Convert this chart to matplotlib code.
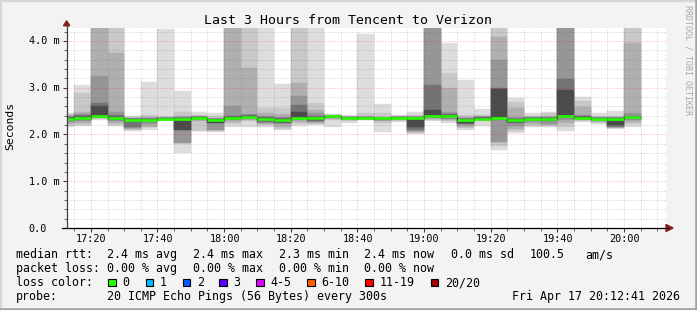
import matplotlib
matplotlib.use("Agg")
import matplotlib.pyplot as plt
import numpy as np
from matplotlib.lines import Line2D
from matplotlib.patches import Rectangle, Polygon
from matplotlib.transforms import blended_transform_factory, offset_copy

# ---------------- data ----------------
slot_start = ["17:10", "17:15", "17:20", "17:25", "17:30", "17:35", "17:40", "17:45",
              "17:50", "17:55", "18:00", "18:05", "18:10", "18:15", "18:20", "18:25",
              "18:30", "18:35", "18:40", "18:45", "18:50", "18:55", "19:00", "19:05",
              "19:10", "19:15", "19:20", "19:25", "19:30", "19:35", "19:40", "19:45",
              "19:50", "19:55", "20:00"]

median_ms = [2.34, 2.36, 2.40, 2.35, 2.32, 2.32, 2.34, 2.34, 2.36, 2.32, 2.35, 2.37,
             2.34, 2.32, 2.36, 2.35, 2.40, 2.36, 2.35, 2.35, 2.35, 2.35, 2.40, 2.40,
             2.32, 2.34, 2.36, 2.32, 2.34, 2.34, 2.40, 2.36, 2.34, 2.34, 2.37]

# smoke bands (outer -> inner): upper and lower edges per slot, in ms
smoke_upper = [
    [2.45, 2.43, 2.41, 2.39, 2.37, 2.35],
    [3.06, 2.89, 2.48, 2.44, 2.41, 2.38],
    [4.6, 4.6, 4.6, 3.25, 2.67, 2.60],
    [4.6, 4.6, 3.74, 2.49, 2.42, 2.38],
    [2.40, 2.38, 2.36, 2.35, 2.34, 2.33],
    [3.12, 2.42, 2.38, 2.36, 2.34, 2.33],
    [4.25, 2.38, 2.37, 2.36, 2.35, 2.345],
    [2.92, 2.49, 2.39, 2.37, 2.36, 2.35],
    [2.49, 2.41, 2.39, 2.38, 2.375, 2.37],
    [2.45, 2.40, 2.36, 2.34, 2.33, 2.33],
    [4.6, 4.6, 4.6, 2.62, 2.40, 2.38],
    [4.6, 4.6, 3.42, 2.44, 2.42, 2.40],
    [4.6, 2.56, 2.45, 2.40, 2.37, 2.35],
    [3.08, 2.57, 2.43, 2.38, 2.35, 2.33],
    [4.6, 4.6, 3.11, 2.82, 2.64, 2.49],
    [4.6, 2.67, 2.52, 2.45, 2.40, 2.36],
    [2.44, 2.42, 2.41, 2.405, 2.40, 2.40],
    [2.41, 2.39, 2.38, 2.37, 2.365, 2.36],
    [4.16, 2.45, 2.40, 2.38, 2.37, 2.36],
    [2.65, 2.45, 2.38, 2.36, 2.355, 2.35],
    [2.41, 2.40, 2.39, 2.38, 2.37, 2.36],
    [2.49, 2.41, 2.39, 2.38, 2.37, 2.36],
    [4.6, 4.6, 4.6, 4.6, 3.06, 2.52],
    [3.95, 3.31, 2.99, 2.49, 2.44, 2.42],
    [3.17, 2.42, 2.38, 2.36, 2.34, 2.33],
    [2.54, 2.41, 2.39, 2.38, 2.37, 2.36],
    [4.6, 4.6, 4.09, 3.59, 2.99, 2.97],
    [2.78, 2.70, 2.56, 2.38, 2.34, 2.33],
    [2.47, 2.40, 2.38, 2.37, 2.36, 2.35],
    [2.49, 2.46, 2.40, 2.37, 2.36, 2.35],
    [4.6, 4.6, 4.6, 4.6, 3.18, 2.95],
    [2.80, 2.71, 2.59, 2.42, 2.39, 2.38],
    [2.45, 2.39, 2.37, 2.36, 2.35, 2.345],
    [2.51, 2.39, 2.37, 2.36, 2.35, 2.345],
    [4.6, 4.6, 3.95, 2.47, 2.40, 2.38],
]
smoke_lower = [
    [2.17, 2.19, 2.22, 2.26, 2.29, 2.32],
    [2.18, 2.20, 2.24, 2.28, 2.31, 2.34],
    [2.31, 2.33, 2.35, 2.37, 2.38, 2.39],
    [2.18, 2.21, 2.25, 2.28, 2.31, 2.33],
    [2.07, 2.10, 2.12, 2.14, 2.16, 2.28],
    [2.10, 2.15, 2.17, 2.22, 2.27, 2.30],
    [2.28, 2.30, 2.31, 2.32, 2.33, 2.335],
    [1.60, 1.81, 1.81, 1.81, 2.10, 2.10],
    [2.08, 2.08, 2.28, 2.30, 2.33, 2.35],
    [2.06, 2.08, 2.10, 2.10, 2.24, 2.24],
    [2.17, 2.22, 2.26, 2.30, 2.33, 2.34],
    [2.16, 2.28, 2.31, 2.34, 2.35, 2.36],
    [2.17, 2.20, 2.22, 2.24, 2.26, 2.30],
    [2.10, 2.12, 2.15, 2.22, 2.24, 2.26],
    [2.18, 2.22, 2.27, 2.31, 2.33, 2.35],
    [2.20, 2.22, 2.24, 2.26, 2.28, 2.31],
    [2.16, 2.30, 2.33, 2.35, 2.37, 2.38],
    [2.24, 2.28, 2.31, 2.33, 2.34, 2.35],
    [2.30, 2.32, 2.33, 2.34, 2.345, 2.35],
    [2.06, 2.24, 2.28, 2.31, 2.32, 2.33],
    [2.26, 2.29, 2.31, 2.33, 2.34, 2.345],
    [2.02, 2.04, 2.06, 2.08, 2.10, 2.17],
    [2.29, 2.31, 2.33, 2.35, 2.37, 2.38],
    [2.24, 2.28, 2.31, 2.34, 2.36, 2.38],
    [2.10, 2.13, 2.16, 2.20, 2.23, 2.24],
    [2.18, 2.29, 2.31, 2.32, 2.33, 2.34],
    [1.67, 1.75, 1.85, 1.85, 2.30, 2.33],
    [2.04, 2.08, 2.12, 2.18, 2.24, 2.26],
    [2.16, 2.18, 2.22, 2.26, 2.30, 2.32],
    [2.16, 2.18, 2.20, 2.22, 2.28, 2.32],
    [2.07, 2.15, 2.24, 2.30, 2.35, 2.38],
    [2.26, 2.29, 2.31, 2.33, 2.34, 2.35],
    [2.22, 2.24, 2.27, 2.30, 2.32, 2.33],
    [2.12, 2.14, 2.16, 2.17, 2.17, 2.20],
    [2.17, 2.22, 2.26, 2.30, 2.33, 2.35],
]
band_shades = ["#dddddd", "#c8c8c8", "#afafaf", "#969696", "#737373", "#4b4b4b"]

y_ticks = [0, 1, 2, 3, 4]
y_tick_labels = ["0.0", "1.0 m", "2.0 m", "3.0 m", "4.0 m"]
x_tick_labels = ["17:20", "17:40", "18:00", "18:20", "18:40", "19:00", "19:20", "19:40", "20:00"]

loss_labels = ["0", "1", "2", "3", "4-5", "6-10", "11-19", "20/20"]
loss_colors = ["#26ff00", "#00b8ff", "#0059ff", "#5e00ff", "#dd00ff", "#ff5e00", "#ff0000", "#a10000"]

title = "Last 3 Hours from Tencent to Verizon"

# ---------------- helpers ----------------
W, H = 697, 310
MONO = "DejaVu Sans Mono"


def to_min(s):
    h, m = s.split(":")
    return (int(h) - 17) * 60 + int(m)


fig = plt.figure(figsize=(W / 100, H / 100), dpi=100, facecolor="#f3f3f3")


def fx(x):
    return x / W


def fy(y):
    return 1 - y / H


def ftext(x, y, s, **kw):
    kw.setdefault("family", MONO)
    kw.setdefault("va", "baseline")
    fig.text(fx(x), fy(y), s, **kw)


# frame
fig.add_artist(Line2D([0, 1], [fy(0.8)] * 2, color="#d6d6d6", lw=1.6))
fig.add_artist(Line2D([fx(0.8)] * 2, [0, 1], color="#d6d6d6", lw=1.6))
fig.add_artist(Line2D([0, 1], [fy(H - 1.2)] * 2, color="#a0a0a0", lw=1.8))
fig.add_artist(Line2D([fx(W - 1.2)] * 2, [0, 1], color="#a0a0a0", lw=1.8))

ax_left, ax_right, ax_bottom, ax_top = 66.5, 666.1, 228, 28
ax = fig.add_axes([fx(ax_left), fy(ax_bottom), (ax_right - ax_left) / W, (ax_bottom - ax_top) / H])
ax.set_facecolor("white")
x0 = 12 + 41 / 60
ax.set_xlim(x0, x0 + 180)
ax.set_ylim(0, 4.278)
for s in ax.spines.values():
    s.set_visible(False)

starts = np.array([to_min(s) for s in slot_start], dtype=float)
up = np.array(smoke_upper)
lo = np.array(smoke_lower)
for k, shade in enumerate(band_shades):
    ax.bar(starts, up[:, k] - lo[:, k], width=5, bottom=lo[:, k], align="edge",
           color=shade, edgecolor=shade, linewidth=0.3, zorder=2)

# median line
edges = np.append(starts, starts[-1] + 5)
ax.stairs(median_ms, edges, baseline=None, color="#202020", lw=0.8, zorder=3)
ax.hlines(median_ms, starts, starts + 5, color="#26ff00", lw=1.9, zorder=4)

# grid (drawn on top, translucent like rrdtool)
dot = (0, (1, 2))
minor_c = (0.4, 0.4, 0.4, 0.35)
major_c = (1, 0, 0, 0.33)
for m in np.arange(15, 193, 5):
    ax.axvline(m, color=major_c if m % 20 == 0 else minor_c, lw=0.72, ls=dot, zorder=5)
for v in np.arange(0.2, 4.28, 0.2):
    ax.axhline(v, color=major_c if abs(v - round(v)) < 1e-6 else minor_c,
               lw=0.72, ls=dot, zorder=5)

# ticks
ax.set_xticks([to_min(t) for t in x_tick_labels])
ax.set_xticks(np.arange(15, 193, 5), minor=True)
ax.set_yticks(y_ticks)
ax.set_yticks(np.arange(0, 4.28, 0.2), minor=True)
ax.tick_params(which="major", length=3, width=0.8, color="#404040", direction="out",
               labelbottom=False, labelleft=False)
ax.tick_params(which="minor", length=2, width=0.7, color="#606060", direction="out")

# axis lines & arrows
fig.add_artist(Line2D([fx(62), fx(668)], [fy(228)] * 2, color="black", lw=0.9))
fig.add_artist(Line2D([fx(66.5)] * 2, [fy(228), fy(25)], color="#404040", lw=0.9))
fig.add_artist(Polygon([(fx(666), fy(224.5)), (fx(666), fy(231.5)), (fx(673), fy(228))],
                       closed=True, color="#8b1a1a", transform=fig.transFigure))
fig.add_artist(Polygon([(fx(63.5), fy(25.8)), (fx(69.8), fy(25.8)), (fx(66.6), fy(20.8))],
                       closed=True, color="#8b1a1a", transform=fig.transFigure))

# tick labels
ytrans = offset_copy(blended_transform_factory(fig.transFigure, ax.transData),
                     fig=fig, x=0, y=-3.5 * 0.72, units="points")
for v, lab in zip(y_ticks, y_tick_labels):
    ax.text(fx(28.8), v, lab, transform=ytrans, family=MONO, fontsize=7.3,
            ha="left", va="baseline", clip_on=False)
xtrans = offset_copy(blended_transform_factory(ax.transData, ax.transAxes),
                     fig=fig, x=0.6 * 0.72, y=-13.7 * 0.72, units="points")
for lab in x_tick_labels:
    ax.text(to_min(lab), 0, lab, transform=xtrans, family=MONO, fontsize=7.3,
            ha="center", va="baseline", clip_on=False)

# title / labels
ftext(348, 24, title, fontsize=9.55, ha="center")
fig.text(fx(10), fy(126), "Seconds", family=MONO, fontsize=8.2, rotation=90,
         ha="center", va="center")
fig.text(fx(688), fy(60), "RRDTOOL / TOBI OETIKER", family=MONO, fontsize=6.0,
         rotation=270, ha="center", va="center", color="#a8a8a8")

# legend
FS = 8.4
ftext(15.5, 258, "median rtt:", fontsize=FS)
for x, s in zip([106.7, 192.7, 278.7, 364.4, 451.1], ["2.4 ms avg", "2.4 ms max", "2.3 ms min", "2.4 ms now", "0.0 ms sd"]):
    ftext(x, 258, s, fontsize=FS)
ftext(530.1, 258, "100.5", fontsize=FS)
ftext(585.4, 258, "am/s", fontsize=FS)

ftext(15.5, 272, "packet loss:", fontsize=FS)
for x, s in zip([106.7, 192.7, 278.7, 364.4], ["0.00 % avg", "0.00 % max", "0.00 % min", "0.00 % now"]):
    ftext(x, 272, s, fontsize=FS)

ftext(15.5, 286, "loss color:", fontsize=FS)
sq_x = [108.3, 145.7, 182.7, 219.3, 256.0, 307.3, 365.0, 430.7]
for x, lab, col in zip(sq_x, loss_labels, loss_colors):
    fig.add_artist(Rectangle((fx(x), fy(286.3)), 7.7 / W, 7.7 / H, facecolor=col,
                             edgecolor="black", lw=0.8, transform=fig.transFigure))
    ftext(x + 14.2, 286, lab, fontsize=FS)

ftext(15.5, 300, "probe:", fontsize=FS)
ftext(106.7, 300, "20 ICMP Echo Pings (56 Bytes) every 300s", fontsize=FS)
ftext(680.5, 300, "Fri Apr 17 20:12:41 2026", fontsize=FS, ha="right")

fig.savefig("out.png", dpi=100, facecolor=fig.get_facecolor())
